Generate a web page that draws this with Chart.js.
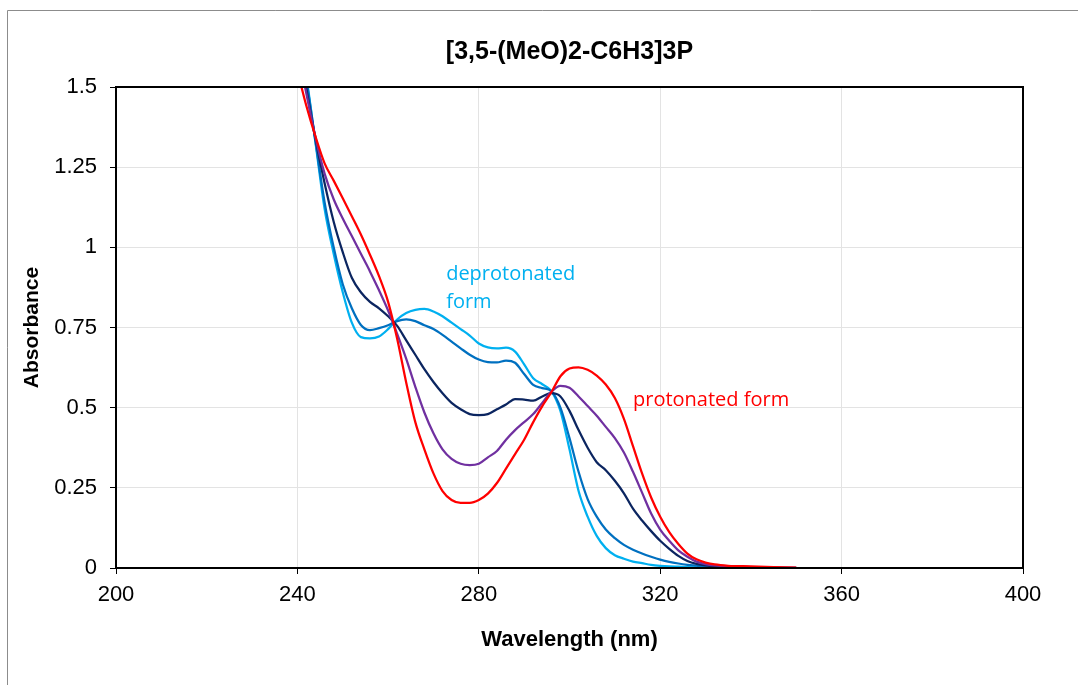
<!DOCTYPE html>
<html>
<head>
<meta charset="utf-8">
<script src="https://cdn.jsdelivr.net/npm/chart.js@4.4.1/dist/chart.umd.min.js"></script>
<style>
html,body{margin:0;padding:0;background:#fff;}
#wrap{width:1078px;height:685px;}
</style>
</head>
<body>
<div id="wrap"><canvas id="c" width="1078" height="685"></canvas></div>
<script>
// ---- data ----
const wavelengths = [240,242,244,246,248,250,252,254,256,258,260,262,264,266,268,270,272,274,276,278,280,282,284,286,288,290,292,294,296,298,300,302,304,306,308,310,312,314,316,318,320,322,324,326,328,330,332,335,340,345,350];

const protonated = [1.55,1.44,1.345,1.262,1.208,1.153,1.097,1.04,0.977,0.91,0.83,0.715,0.578,0.455,0.37,0.295,0.24,0.212,0.203,0.203,0.212,0.232,0.265,0.31,0.355,0.40,0.455,0.505,0.548,0.598,0.622,0.626,0.618,0.60,0.572,0.53,0.465,0.38,0.295,0.22,0.16,0.112,0.075,0.045,0.027,0.017,0.011,0.007,0.005,0.003,0.001];

const intermediate1 = [1.62,1.478,1.342,1.23,1.15,1.09,1.035,0.98,0.925,0.866,0.803,0.73,0.652,0.565,0.485,0.42,0.37,0.34,0.325,0.321,0.325,0.345,0.365,0.40,0.43,0.455,0.48,0.515,0.55,0.568,0.562,0.535,0.505,0.475,0.44,0.405,0.36,0.30,0.235,0.17,0.12,0.085,0.055,0.035,0.02,0.012,0.008,0.005,0.003,0.002,0.001];

const intermediate2 = [1.65,1.492,1.337,1.20,1.08,0.985,0.905,0.86,0.83,0.81,0.785,0.755,0.71,0.665,0.62,0.58,0.545,0.515,0.495,0.48,0.477,0.48,0.495,0.51,0.527,0.525,0.522,0.535,0.545,0.535,0.49,0.43,0.375,0.33,0.305,0.272,0.233,0.185,0.148,0.115,0.085,0.06,0.038,0.022,0.013,0.008,0.005,0.003,0.002,0.001,0];

const intermediate3 = [1.68,1.52,1.329,1.14,1.0,0.885,0.81,0.758,0.742,0.748,0.757,0.77,0.775,0.77,0.757,0.745,0.727,0.706,0.685,0.665,0.65,0.642,0.641,0.647,0.64,0.605,0.571,0.561,0.551,0.50,0.405,0.30,0.215,0.16,0.12,0.093,0.072,0.057,0.045,0.035,0.026,0.019,0.014,0.01,0.007,0.004,0.003,0.002,0.001,0,0];

const deprotonated = [1.70,1.53,1.325,1.12,0.98,0.86,0.765,0.72,0.716,0.722,0.745,0.775,0.795,0.805,0.808,0.80,0.785,0.765,0.745,0.725,0.70,0.688,0.685,0.687,0.675,0.635,0.592,0.573,0.552,0.49,0.37,0.24,0.16,0.10,0.062,0.04,0.029,0.02,0.015,0.01,0.007,0.005,0.004,0.003,0.002,0.001,0.001,0,0,0,0];

const seriesNames = ['protonated','intermediate 1','intermediate 2','intermediate 3','deprotonated'];
const seriesColors = ['#FF0000','#7030A0','#0B2560','#0070C0','#00B0F0'];

const xTickValues = [200,240,280,320,360,400];
const yTickLabels = ['0','0.25','0.5','0.75','1','1.25','1.5'];

const annotTexts = ['deprotonated','form','protonated form'];
const annotX = [272.8,272.8,314.0];
const annotY = [0.917,0.83,0.524];
const annotColors = ['#00B0F0','#00B0F0','#FF0000'];

const chartTitle = '[3,5-(MeO)2-C6H3]3P';
const xTitle = 'Wavelength (nm)';
const yTitle = 'Absorbance';

// ---- build ----
const allSeries = [protonated,intermediate1,intermediate2,intermediate3,deprotonated];
const datasets = allSeries.map((arr,i)=>({
  label: seriesNames[i],
  data: wavelengths.map((w,j)=>({x:w,y:arr[j]})),
  borderColor: seriesColors[i],
  backgroundColor: seriesColors[i],
  borderWidth: 2.25,
  pointRadius: 0,
  fill: false,
  cubicInterpolationMode: 'monotone'
}));

const frame = {
  id:'frame',
  beforeDraw(chart){
    const ctx = chart.ctx;
    ctx.save();
    ctx.fillStyle='#fff';
    ctx.fillRect(0,0,chart.width,chart.height);
    ctx.strokeStyle='#8c8c8c';
    ctx.lineWidth=1;
    ctx.beginPath();
    ctx.moveTo(7.5,chart.height);
    ctx.lineTo(7.5,10.5);
    ctx.lineTo(chart.width,10.5);
    ctx.stroke();
    ctx.restore();
  },
  afterDatasetsDraw(chart){
    const ctx = chart.ctx, a = chart.chartArea;
    ctx.save();
    ctx.strokeStyle='#000';
    ctx.lineWidth=2;
    ctx.strokeRect(a.left,a.top,a.right-a.left,a.bottom-a.top);
    const xs = chart.scales.x, ys = chart.scales.y;
    ctx.font = '20px "Open Sans", sans-serif';
    ctx.textAlign='left';
    ctx.textBaseline='middle';
    annotTexts.forEach((t,i)=>{
      ctx.fillStyle = annotColors[i];
      ctx.fillText(t, xs.getPixelForValue(annotX[i]), ys.getPixelForValue(annotY[i]));
    });
    ctx.restore();
  }
};

new Chart(document.getElementById('c'), {
  type:'line',
  data:{datasets},
  options:{
    responsive:false,
    animation:false,
    devicePixelRatio:1,
    layout:{padding:{left:0,right:55,top:0,bottom:0}},
    plugins:{
      legend:{display:false},
      tooltip:{enabled:false},
      title:{
        display:true,
        fullSize:false,
        text:chartTitle,
        color:'#000',
        font:{family:'"Liberation Sans", Arial, sans-serif',size:25,weight:'bold',lineHeight:1.2},
        padding:{top:37,bottom:20}
      }
    },
    scales:{
      x:{
        type:'linear',
        min:200,max:400,
        afterFit(s){ s.height = 117; },
        afterBuildTicks(s){ s.ticks = xTickValues.map(v=>({value:v})); },
        ticks:{
          color:'#000',
          padding:8,
          maxRotation:0,
          font:{family:'"Liberation Sans", Arial, sans-serif',size:22},
          callback:(v)=>String(v)
        },
        grid:{color:'#E3E3E3',lineWidth:1,tickColor:'#000',tickLength:6},
        border:{display:true,color:'#000',width:2},
        title:{
          display:true,text:xTitle,color:'#000',
          font:{family:'"Liberation Sans", Arial, sans-serif',size:22,weight:'bold',lineHeight:1.2},
          padding:{top:0,bottom:32}
        }
      },
      y:{
        type:'linear',
        min:0,max:1.5,
        afterFit(s){ s.width = 116; },
        afterBuildTicks(s){ s.ticks = yTickLabels.map(l=>({value:parseFloat(l)})); },
        ticks:{
          color:'#000',
          padding:13,
          font:{family:'"Liberation Sans", Arial, sans-serif',size:22},
          callback:(v,i)=>yTickLabels[i]
        },
        grid:{color:'#E3E3E3',lineWidth:1,tickColor:'#000',tickLength:6},
        border:{display:true,color:'#000',width:2},
        title:{
          display:true,text:yTitle,color:'#000',
          font:{family:'"Liberation Sans", Arial, sans-serif',size:21,weight:'bold',lineHeight:1.2},
          padding:{top:20,bottom:0}
        }
      }
    }
  },
  plugins:[frame]
});
</script>
</body>
</html>
